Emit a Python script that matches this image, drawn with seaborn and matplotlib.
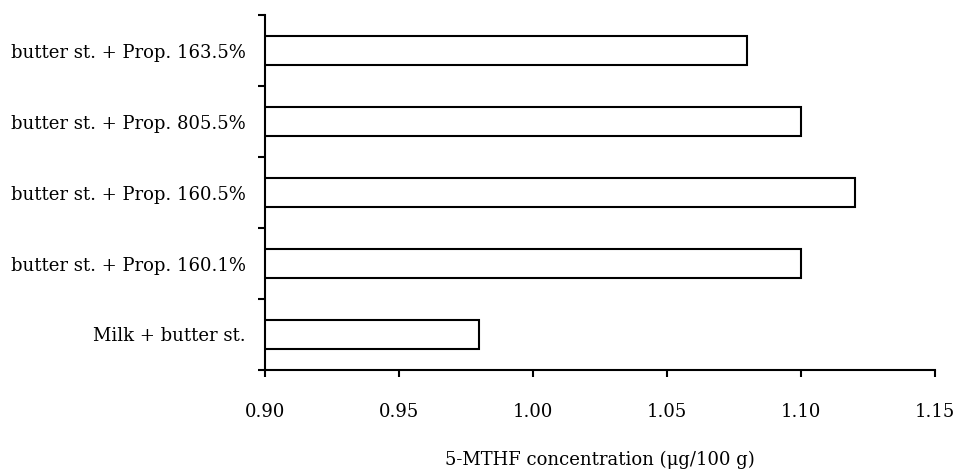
import numpy as np
import pandas as pd
import matplotlib
matplotlib.use('Agg')
import matplotlib.pyplot as plt
import seaborn as sns

# values, listed top to bottom
samples = ['butter st. + Prop. 163.5%', 'butter st. + Prop. 805.5%',
           'butter st. + Prop. 160.5%', 'butter st. + Prop. 160.1%',
           'Milk + butter st.']
conc = [1.08, 1.10, 1.12, 1.10, 0.98]
x_ticks = [0.90, 0.95, 1.00, 1.05, 1.10, 1.15]

df = pd.DataFrame({'sample': samples, 'conc': conc})

sns.set_style('white')
plt.rcParams['font.family'] = ['DejaVu Serif']
plt.rcParams['text.color'] = 'black'
plt.rcParams['xtick.color'] = 'black'
plt.rcParams['ytick.color'] = 'black'
plt.rcParams['axes.labelcolor'] = 'black'

fig = plt.figure(figsize=(9.57, 4.70), dpi=100)
ax = fig.add_axes([0.2769, 0.2128, 0.977 - 0.2769, 0.968 - 0.2128])

sns.barplot(data=df, x='conc', y='sample', order=samples, orient='h',
            color='white', edgecolor='black', linewidth=1.5, width=0.4, ax=ax)

ax.set_xlim(0.90, 1.15)
ax.set_ylim(len(samples) - 0.5, -0.5)
ax.set_xticks(x_ticks)
ax.set_xticklabels([f'{v:.2f}' for v in x_ticks], fontsize=13)
ax.set_xlabel('5-MTHF concentration (μg/100 g)', fontsize=13, labelpad=21)
ax.set_ylabel('')

# y ticks sit on the boundaries between categories
ax.set_yticks(np.arange(len(samples) + 1) - 0.5, minor=True)
ax.tick_params(axis='y', which='major', length=0, pad=14, labelsize=13)
ax.tick_params(axis='y', which='minor', length=5, width=1.5, left=True,
               direction='out')
ax.tick_params(axis='x', which='major', length=5, width=1.5, bottom=True,
               direction='out', pad=19)

for side in ['top', 'right']:
    ax.spines[side].set_visible(False)
for side in ['left', 'bottom']:
    ax.spines[side].set_linewidth(1.5)
    ax.spines[side].set_color('black')

fig.savefig('out.png', dpi=100)
plt.close(fig)
